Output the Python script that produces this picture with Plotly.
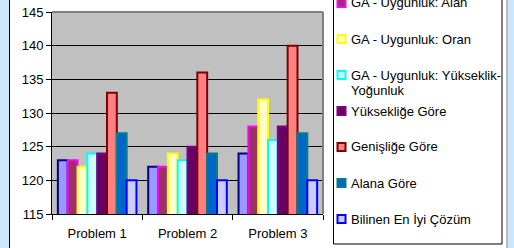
import plotly.graph_objects as go

categories = ["Problem 1", "Problem 2", "Problem 3"]
series_names = [
    "GA - Uygunluk: Yükseklik",
    "GA - Uygunluk: Alan",
    "GA - Uygunluk: Oran",
    "GA - Uygunluk: Yükseklik-<br>Yoğunluk",
    "Yüksekliğe Göre",
    "Genişliğe Göre",
    "Alana Göre",
    "Bilinen En İyi Çözüm",
]
series_values = [
    [123, 122, 124],
    [123, 122, 128],
    [122, 124, 132],
    [124, 123, 126],
    [124, 125, 128],
    [133, 136, 140],
    [127, 124, 127],
    [120, 120, 120],
]
fill_colors = ["#9999FF", "#993366", "#FFFFCC", "#CCFFFF", "#660066", "#FF8080", "#0066CC", "#CCCCFF"]
line_colors = ["#000080", "#FF00FF", "#FFFF00", "#00FFFF", "#800080", "#800000", "#008080", "#0000FF"]
y_ticks = [115, 120, 125, 130, 135, 140, 145]

W, H = 514, 248
PL, PR, PT, PB = 52, 323, 12, 214  # plot area in pixels


def px(x):
    return (x - PL) / (PR - PL)


def py(y):
    return (PB - y) / (PB - PT)


FONT = "Liberation Sans, Arial, sans-serif"

fig = go.Figure()
for name, vals, fc, lc in zip(series_names, series_values, fill_colors, line_colors):
    fig.add_trace(go.Bar(
        x=categories, y=vals, name=name.replace("<br>", ""),
        marker=dict(color=fc, line=dict(color=lc, width=2)),
        showlegend=False,
    ))

shapes = []
annotations = []
# outer light-blue strips and frame lines
shapes.append(dict(type="rect", xref="paper", yref="paper", x0=px(-2), x1=px(9), y0=py(-5), y1=py(H + 5),
                   fillcolor="#CCE6FF", line=dict(width=0), layer="above"))
shapes.append(dict(type="rect", xref="paper", yref="paper", x0=px(507.5), x1=px(W + 2), y0=py(-5), y1=py(H + 5),
                   fillcolor="#CCE6FF", line=dict(width=0), layer="above"))
shapes.append(dict(type="line", xref="paper", yref="paper", x0=px(9.5), x1=px(9.5), y0=py(-5), y1=py(H + 5),
                   line=dict(color="black", width=1)))
shapes.append(dict(type="line", xref="paper", yref="paper", x0=px(507), x1=px(507), y0=py(-5), y1=py(H + 5),
                   line=dict(color="#808080", width=1)))
# grey plot border top/right
shapes.append(dict(type="line", xref="paper", yref="paper", x0=0, x1=1, y0=1, y1=1,
                   line=dict(color="#808080", width=2)))
shapes.append(dict(type="line", xref="paper", yref="paper", x0=1, x1=1, y0=0, y1=1,
                   line=dict(color="#808080", width=2)))
# legend box
shapes.append(dict(type="rect", xref="paper", yref="paper", x0=px(333.5), x1=px(502), y0=py(244), y1=py(-10),
                   fillcolor="white", line=dict(color="black", width=1)))

legend_rows = [-33, 3, 39, 75, 111, 147, 183, 219]
LINE_STEP = 15
for name, fc, lc, yc in zip(series_names, fill_colors, line_colors, legend_rows):
    shapes.append(dict(type="rect", xref="paper", yref="paper",
                       x0=px(337.5), x1=px(345.5), y0=py(yc + 4), y1=py(yc - 4),
                       fillcolor=fc, line=dict(color=lc, width=2)))
    for i, line in enumerate(name.split("<br>")):
        annotations.append(dict(
            xref="paper", yref="paper", x=px(348.5), y=py(yc + i * LINE_STEP),
            xanchor="left", yanchor="middle", align="left",
            text=line, showarrow=False, font=dict(family=FONT, size=13, color="black"),
        ))

fig.update_layout(
    width=W, height=H,
    margin=dict(l=PL, r=W - PR, t=PT, b=H - PB, pad=0, autoexpand=False),
    paper_bgcolor="white", plot_bgcolor="#C0C0C0",
    barmode="group", bargap=0.13, bargroupgap=0,
    font=dict(family=FONT, size=13, color="black"),
    shapes=shapes, annotations=annotations,
    showlegend=False,
)
fig.update_xaxes(
    type="category", showgrid=False, showline=True, linecolor="black", linewidth=1,
    ticks="outside", tickson="boundaries", ticklen=5, tickcolor="black",
    ticklabelstandoff=7, automargin=False,
)
fig.update_yaxes(
    range=[115, 145], tickvals=y_ticks, showgrid=True, gridcolor="black", gridwidth=1,
    showline=True, linecolor="black", linewidth=1, ticks="outside", ticklen=5,
    tickcolor="black", zeroline=False, automargin=False,
)

fig.write_html(
    "out.html",
    config={"displayModeBar": False},
    post_script="document.body.style.margin='0';document.body.style.overflow='hidden';",
)
